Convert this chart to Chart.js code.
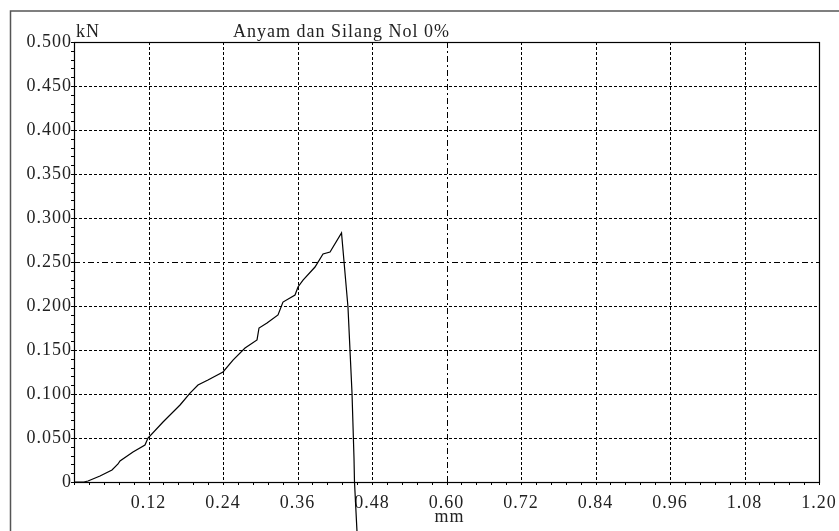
<!DOCTYPE html>
<html>
<head>
<meta charset="utf-8">
<script src="https://cdn.jsdelivr.net/npm/chart.js@4"></script>
<style>
html,body{margin:0;padding:0;background:#fff;}
#wrap{width:839px;height:531px;position:relative;}
</style>
</head>
<body>
<div id="wrap"><canvas id="c" width="839" height="531"></canvas></div>
<script>
// ---- data ----
const chartTitle = "Anyam dan Silang Nol 0%";
const yUnit = "kN";
const xUnit = "mm";
const xTickValues = [0, 0.12, 0.24, 0.36, 0.48, 0.60, 0.72, 0.84, 0.96, 1.08, 1.20];
const xTickLabels = ["", "0.12", "0.24", "0.36", "0.48", "0.60", "0.72", "0.84", "0.96", "1.08", "1.20"];
const yTickValues = [0, 0.05, 0.10, 0.15, 0.20, 0.25, 0.30, 0.35, 0.40, 0.45, 0.50];
const yTickLabels = ["0", "0.050", "0.100", "0.150", "0.200", "0.250", "0.300", "0.350", "0.400", "0.450", "0.500"];
const displacement = [0, 0.016, 0.0226, 0.0419, 0.0612, 0.0709, 0.0741, 0.0950, 0.1143, 0.1192, 0.1434, 0.1708, 0.1869, 0.1997, 0.2158, 0.2400, 0.2561, 0.2755, 0.2948, 0.2980, 0.3109, 0.3286, 0.3366, 0.3560, 0.3608, 0.3689, 0.3882, 0.4011, 0.4124, 0.4309, 0.4413, 0.4478, 0.4510, 0.4518, 0.4558];
const force = [0, 0, 0.0011, 0.0068, 0.0136, 0.0205, 0.0239, 0.0341, 0.0420, 0.0500, 0.0682, 0.0875, 0.1011, 0.1102, 0.1159, 0.1250, 0.1386, 0.1523, 0.1614, 0.1750, 0.1807, 0.1898, 0.2045, 0.2125, 0.2216, 0.2295, 0.2443, 0.2591, 0.2614, 0.2830, 0.1989, 0.1011, 0.0273, 0, -0.0557];
const xCenterLine = 0.60;
const yCenterLine = 0.25;

const FONT = "Liberation Serif";
const TXT = "#222";

const points = displacement.map((x, i) => ({x: x, y: force[i]}));

const decor = {
  id: 'decor',
  beforeDraw(chart) {
    const ctx = chart.ctx;
    ctx.save();
    ctx.fillStyle = '#fff';
    ctx.fillRect(0, 0, chart.width, chart.height);
    ctx.restore();
    ctx.letterSpacing = '1px';
  },
  beforeDatasetsDraw(chart) {
    const ctx = chart.ctx, a = chart.chartArea;
    const xs = chart.scales.x, ys = chart.scales.y;
    ctx.save();
    ctx.strokeStyle = '#000';
    ctx.lineWidth = 1;
    xTickValues.forEach(v => {
      if (v <= xs.min || v >= xs.max) return;
      const px = Math.round(xs.getPixelForValue(v)) + 0.5;
      ctx.setLineDash(Math.abs(v - xCenterLine) < 1e-9 ? [6, 3, 2, 3] : [3, 2]);
      ctx.beginPath(); ctx.moveTo(px, a.top); ctx.lineTo(px, a.bottom); ctx.stroke();
    });
    yTickValues.forEach(v => {
      if (v <= ys.min || v >= ys.max) return;
      const py = Math.round(ys.getPixelForValue(v)) + 0.5;
      ctx.setLineDash(Math.abs(v - yCenterLine) < 1e-9 ? [6, 3, 2, 3] : [3, 2]);
      ctx.beginPath(); ctx.moveTo(a.left, py); ctx.lineTo(a.right, py); ctx.stroke();
    });
    ctx.setLineDash([]);
    ctx.beginPath();
    for (let i = 0; i <= 50; i++) {
      const px = Math.round(xs.getPixelForValue(xs.min + (xs.max - xs.min) * i / 50)) + 0.5;
      ctx.moveTo(px, a.bottom); ctx.lineTo(px, a.bottom + 3);
    }
    for (let i = 0; i <= 50; i++) {
      const py = Math.round(ys.getPixelForValue(ys.min + (ys.max - ys.min) * i / 50)) + 0.5;
      ctx.moveTo(a.left, py); ctx.lineTo(a.left - 3, py);
    }
    ctx.stroke();
    ctx.lineWidth = 1.2;
    ctx.strokeRect(Math.round(a.left) + 0.5, Math.round(a.top) + 0.5, Math.round(a.right - a.left), Math.round(a.bottom - a.top));
    ctx.strokeStyle = '#555';
    ctx.lineWidth = 1.5;
    ctx.beginPath();
    ctx.moveTo(10.5, chart.height + 2); ctx.lineTo(10.5, 11); ctx.lineTo(839, 11);
    ctx.stroke();
    ctx.fillStyle = TXT;
    ctx.font = "18px '" + FONT + "'";
    ctx.letterSpacing = '1px';
    ctx.textBaseline = 'alphabetic';
    ctx.textAlign = 'left';
    ctx.fillText(yUnit, a.left + 2, 37);
    ctx.fillText(chartTitle, 233, 37);
    ctx.textAlign = 'center';
    ctx.fillText(xUnit, xs.getPixelForValue(xCenterLine) + 3, 522);
    ctx.restore();
  }
};

new Chart(document.getElementById('c'), {
  type: 'scatter',
  data: {
    datasets: [{
      data: points,
      showLine: true,
      borderColor: '#000',
      borderWidth: 1.2,
      pointRadius: 0,
      tension: 0,
      clip: false
    }]
  },
  options: {
    responsive: false,
    animation: false,
    devicePixelRatio: 1,
    layout: {padding: {left: 0, top: 42, right: 20, bottom: 0}},
    plugins: {legend: {display: false}, tooltip: {enabled: false}, title: {display: false}},
    scales: {
      x: {
        type: 'linear', min: 0, max: 1.2,
        afterBuildTicks: s => { s.ticks = xTickValues.map(v => ({value: v})); },
        afterFit: s => { s.height = 49; s.paddingLeft = 0; s.paddingRight = 0; },
        grid: {display: false, drawTicks: false},
        border: {display: false},
        ticks: {
          padding: 10, maxRotation: 0, autoSkip: false, color: TXT,
          font: {family: FONT, size: 18},
          callback: (v, i) => xTickLabels[i]
        }
      },
      y: {
        type: 'linear', min: 0, max: 0.5,
        afterBuildTicks: s => { s.ticks = yTickValues.map(v => ({value: v})); },
        afterFit: s => { s.width = 74; s.paddingTop = 0; s.paddingBottom = 0; },
        grid: {display: false, drawTicks: false},
        border: {display: false},
        ticks: {
          padding: 2, autoSkip: false, color: TXT,
          font: {family: FONT, size: 18},
          callback: (v, i) => yTickLabels[i]
        }
      }
    }
  },
  plugins: [decor]
});
</script>
</body>
</html>
